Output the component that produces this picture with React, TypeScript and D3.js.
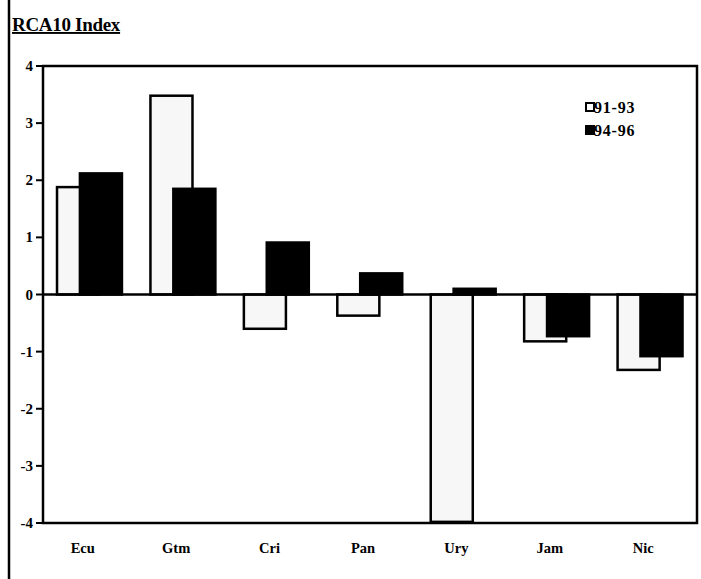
import React from "react";
import * as d3 from "d3";

const categories = ["Ecu", "Gtm", "Cri", "Pan", "Ury", "Jam", "Nic"];
const series9193 = [1.88, 3.48, -0.6, -0.37, -3.98, -0.82, -1.32];
const series9496 = [2.12, 1.85, 0.91, 0.37, 0.1, -0.73, -1.08];
const yTicks = [4, 3, 2, 1, 0, -1, -2, -3, -4];
const legendLabels = ["91-93", "94-96"];

export default function App() {
  const W = 701;
  const H = 579;
  const left = 43, right = 697, top = 66, bottom = 523;
  const x = d3.scaleBand<string>().domain(categories).range([left, right]).paddingInner(0).paddingOuter(0);
  const y = d3.scaleLinear().domain([-4, 4]).range([bottom, top]);
  const bw = x.bandwidth();
  const barW = bw * 0.45;
  const off1 = bw * 0.15;
  const off2 = bw * 0.395;
  const serif = "'Liberation Serif', 'DejaVu Serif', serif";

  return (
    <svg width={W} height={H} style={{ position: "absolute", left: 0, top: 0, background: "#fff" }}>
      <rect x={0} y={0} width={W} height={H} fill="#fff" />
      <line x1={9} x2={9} y1={0} y2={H} stroke="#000" strokeWidth={2.5} />
      <text x={12} y={31} fontFamily={serif} fontWeight="bold" fontSize={19} textDecoration="underline" letterSpacing={-0.3}>
        RCA10 Index
      </text>
      {/* y ticks */}
      {yTicks.map((t) => (
        <g key={t}>
          <line x1={36} x2={left} y1={y(t)} y2={y(t)} stroke="#000" strokeWidth={2} />
          <text x={33} y={y(t) + 5} textAnchor="end" fontFamily={serif} fontWeight="bold" fontSize={15}>
            {t}
          </text>
        </g>
      ))}
      {/* bars 91-93 */}
      {categories.map((c, i) => {
        const v = series9193[i];
        const y0 = y(0), y1 = y(v);
        return (
          <rect key={"a" + c} x={(x(c) as number) + off1} y={Math.min(y0, y1)} width={barW} height={Math.abs(y1 - y0)}
            fill="#f7f7f7" stroke="#000" strokeWidth={2.5} />
        );
      })}
      {/* bars 94-96 */}
      {categories.map((c, i) => {
        const v = series9496[i];
        const y0 = y(0), y1 = y(v);
        return (
          <rect key={"b" + c} x={(x(c) as number) + off2} y={Math.min(y0, y1)} width={barW} height={Math.abs(y1 - y0)}
            fill="#000" stroke="#000" strokeWidth={2.5} />
        );
      })}
      {/* zero line */}
      <line x1={left} x2={right} y1={y(0)} y2={y(0)} stroke="#000" strokeWidth={2.5} />
      {/* frame */}
      <rect x={left} y={top} width={right - left} height={bottom - top} fill="none" stroke="#000" strokeWidth={2.5} />
      {/* category labels */}
      {categories.map((c) => (
        <text key={"l" + c} x={(x(c) as number) + bw / 2 - 7} y={553} textAnchor="middle" fontFamily={serif} fontWeight="bold" fontSize={14.5}>
          {c}
        </text>
      ))}
      {/* legend */}
      {legendLabels.map((l, i) => (
        <g key={l}>
          <rect x={586} y={103 + i * 23} width={8} height={8} fill={i === 0 ? "#fff" : "#000"} stroke="#000" strokeWidth={2} />
          <text x={594} y={113 + i * 23} fontFamily={serif} fontWeight="bold" fontSize={16} letterSpacing={0.8}>
            {l}
          </text>
        </g>
      ))}
    </svg>
  );
}
